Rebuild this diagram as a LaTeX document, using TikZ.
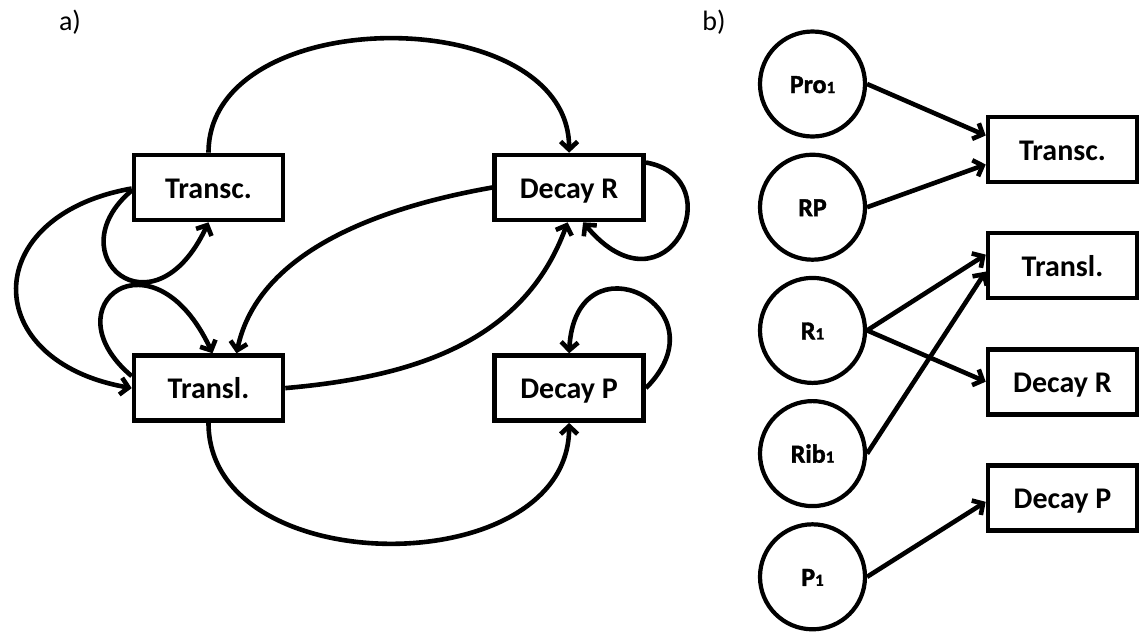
\documentclass[tikz,border=0pt]{standalone}
\usepackage{fontspec}
\setmainfont{Carlito}
\newfontfamily\molfont[FakeBold=1.5]{Carlito}
\usepackage{tikz}
\usetikzlibrary{arrows.meta,positioning}

\newcommand{\idx}[1]{{\fontsize{17}{17}\selectfont #1}}

\begin{document}
\begin{tikzpicture}[
x=1pt, y=-1pt,
box/.style={rectangle, draw, line width=4.6pt, minimum width=149pt, minimum height=65pt, inner sep=0pt, text height=27pt, text depth=6pt, font=\bfseries\fontsize{30}{36}\selectfont, align=center},
mol/.style={circle, draw, line width=4.2pt, minimum size=105pt, inner sep=0pt, text height=22pt, text depth=4pt, font=\molfont\bfseries\fontsize{26}{30}\selectfont},
arrow/.style={-{Straight Barb[length=8pt,width=17pt]}, line width=4.6pt},
tag/.style={font=\fontsize{28}{34}\selectfont}
]
\useasboundingbox (0,0) rectangle (1139,633);

% a) processes
\node[tag] (taga) at (70,22) {a)};
\node[box] (tsc) at (208.5,187.5) {Transc.};
\node[box, below=131pt of tsc] (tsl) {Transl.};
\node[box, right=207pt of tsc] (dcr) {Decay R};
\node[box, below=131pt of dcr] (dcp) {Decay P};

% a) arrows
\draw[arrow] (tsc.north) to[out=90, in=90, looseness=1.08] (dcr.north);
\draw[arrow] (dcr.west) to[out=190, in=78, looseness=0.9] ([xshift=28pt]tsl.north);
\draw[arrow] (tsl.east) to[out=5, in=-110, looseness=1] ([xshift=-1.5pt]dcr.south);
\draw[arrow] (tsl.south) to[out=-90, in=-90, looseness=1.14] (dcp.south);
\draw[arrow] ([yshift=-1pt]tsc.west) to[out=190, in=170, looseness=2] (tsl.west);

% a) self loops
\draw[arrow] ([yshift=-3pt]tsc.west) to[out=220, in=-115, out distance=100pt, in distance=130pt] (tsc.south);
\draw[arrow] ([yshift=12pt]tsl.west) to[out=140, in=115, out distance=110pt, in distance=140pt] ([xshift=4pt]tsl.north);
\draw[arrow] ([yshift=25pt]dcr.east) to[out=-10, in=-50, out distance=90pt, in distance=130pt] ([xshift=14pt]dcr.south);
\draw[arrow] (dcp.east) to[out=45, in=87, out distance=115pt, in distance=121pt] (dcp.north);

% b) species
\node[tag] (tagb) at (714,22) {b)};
\node[mol] (pro) at (812.5,84) {Pro\idx{1}};
\node[mol, below=14pt of pro] (rp) {RP};
\node[mol, below=14pt of rp] (rone) {R\idx{1}};
\node[mol, below=14pt of rone] (rib) {Rib\idx{1}};
\node[mol, below=14pt of rib] (pone) {P\idx{1}};

% b) processes
\node[box] (tscb) at (1062.5,149.5) {Transc.};
\node[box, below=46.5pt of tscb] (tslb) {Transl.};
\node[box, below=46.5pt of tslb] (dcrb) {Decay R};
\node[box, below=46.5pt of dcrb] (dcpb) {Decay P};

% b) arrows
\draw[arrow] (pro.east) -- ([yshift=14pt]tscb.west);
\draw[arrow] (rp.east) -- ([yshift=-15pt]tscb.west);
\draw[arrow] (rone.east) -- ([yshift=11pt]tslb.west);
\draw[arrow] (rone.east) -- (dcrb.west);
\draw[arrow] (rib.east) -- ([yshift=-6pt]tslb.west);
\draw[arrow] (pone.east) -- ([yshift=-4pt]dcpb.west);

\end{tikzpicture}
\end{document}
